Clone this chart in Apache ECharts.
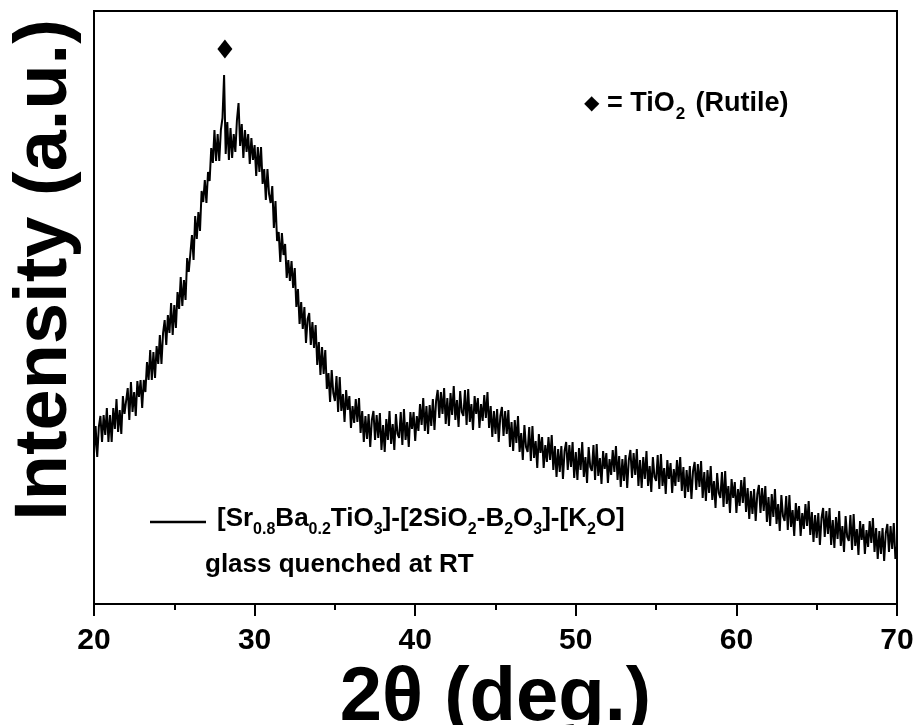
<!DOCTYPE html>
<html>
<head>
<meta charset="utf-8">
<script src="https://cdn.jsdelivr.net/npm/echarts@6/dist/echarts.min.js"></script>
<style>html,body{margin:0;padding:0;background:#fff}#c{width:917px;height:725px}</style>
</head>
<body>
<div id="c"></div>
<script>
// 2θ from 20.0 to 70.0 in 0.1° steps
const twoThetaStart = 20.0;
const twoThetaStep = 0.1;
const intensity = [
150,178,147,177,188,162,189,169,196,162,
189,162,196,175,205,172,194,170,208,190,
188,216,184,222,192,212,188,223,207,224,
196,224,212,242,224,254,224,252,226,258,
240,269,240,271,284,259,289,271,301,269,
299,276,312,295,327,298,324,304,346,332,
334,369,344,388,365,392,373,413,402,424,
401,432,423,456,441,474,443,470,443,474,
486,529,450,482,444,476,446,470,452,484,
501,458,480,446,474,452,470,440,466,444,
459,428,457,432,457,420,435,404,435,410,
401,418,376,403,363,372,342,371,349,360,
326,344,323,343,316,336,297,315,280,302,
275,297,261,285,291,259,282,256,279,239,
262,229,257,230,254,215,231,202,234,211,
203,228,192,227,193,210,182,214,194,208,
176,198,181,205,182,206,171,193,162,188,
165,190,157,184,193,164,189,166,191,154,
179,152,185,164,193,160,180,154,190,170,
166,192,159,195,164,182,157,192,175,192,
163,188,173,200,179,206,173,198,170,199,
178,205,174,203,214,186,212,190,216,180,
206,178,211,189,218,184,204,177,213,192,
188,214,179,215,182,200,174,208,190,206,
176,200,183,209,186,212,176,198,167,193,
170,195,162,188,197,168,193,170,194,157,
182,153,184,161,188,152,171,144,179,157,
152,177,143,178,146,163,136,170,151,167,
136,159,142,167,144,169,134,158,127,155,
132,158,125,153,162,134,159,137,162,126,
152,124,156,134,162,127,147,121,157,137,
133,159,124,160,128,146,120,153,135,151,
121,145,129,154,132,158,124,148,117,145,
123,149,116,144,154,126,151,129,155,118,
144,116,147,125,153,118,138,112,147,127,
123,149,115,150,118,136,110,144,125,141,
111,135,118,144,122,147,113,137,106,134,
112,138,105,133,142,114,140,117,143,106,
132,103,134,111,138,104,123,96,131,111,
106,132,97,133,100,118,91,125,106,122,
91,115,98,124,101,127,92,116,85,113,
90,115,83,110,119,91,116,93,118,82,
107,78,110,87,115,80,100,73,109,88,
83,108,74,109,77,94,68,101,83,98,
68,91,75,100,78,103,69,92,62,89,
66,91,59,86,96,67,93,70,96,59,
84,56,87,65,93,58,78,52,88,67,
63,89,54,90,58,75,49,83,64,80,
50,74,57,83,61,86,52,76,45,73,
50,76,43,71,80,52,78,55,81,45,
58
];
const rutilePeaks = [[28.15, 555]];
const xTicks = [20, 30, 40, 50, 60, 70];

const seriesData = intensity.map((v, i) => [+(twoThetaStart + i * twoThetaStep).toFixed(1), v]);

const chart = echarts.init(document.getElementById('c'), null, {renderer: 'canvas'});
const F = '"Liberation Sans", Arial, sans-serif';
chart.setOption({
  animation: false,
  backgroundColor: '#fff',
  grid: {left: 94, right: 20, top: 11, bottom: 121, outerBoundsMode: 'none', containLabel: false,
    show: true, borderColor: '#000', borderWidth: 2, backgroundColor: 'transparent'},
  xAxis: {
    type: 'value', min: 20, max: 70, interval: 10,
    name: '2θ (deg.)', nameLocation: 'middle', nameGap: 50,
    nameTextStyle: {fontFamily: F, fontWeight: 'bold', fontSize: 76, color: '#000'},
    axisLine: {lineStyle: {color: '#000', width: 2}},
    axisTick: {show: true, length: 12, lineStyle: {color: '#000', width: 2}},
    minorTick: {show: true, splitNumber: 2, length: 6, lineStyle: {color: '#000', width: 2}},
    splitLine: {show: false},
    axisLabel: {fontFamily: F, fontWeight: 'bold', fontSize: 30, color: '#000', margin: 22,
      formatter: v => xTicks.includes(v) ? String(v) : ''}
  },
  yAxis: {
    type: 'value', min: 0, max: 593,
    axisLine: {show: true, lineStyle: {color: '#000', width: 2}},
    axisTick: {show: false}, axisLabel: {show: false}, splitLine: {show: false}
  },
  series: [
    {type: 'line', data: seriesData, showSymbol: false, symbol: 'none',
     lineStyle: {color: '#000', width: 2}},
    {type: 'scatter', data: rutilePeaks, symbol: 'diamond', symbolSize: [15, 19],
     itemStyle: {color: '#000', opacity: 1}}
  ],
  graphic: [
    {type: 'text', x: 46, y: 270, rotation: Math.PI / 2,
     style: {text: 'Intensity (a.u.)', fontFamily: F, fontWeight: 'bold', fontSize: 74, fill: '#000',
       x: 0, y: 0, textAlign: 'center', textVerticalAlign: 'middle'}},
    {type: 'line', shape: {x1: 150, y1: 522, x2: 206, y2: 522}, style: {stroke: '#000', lineWidth: 2.5}},
    {type: 'text', x: 217, y: 506,
     style: {
       text: '{n|[Sr}{s|0.8}{n|Ba}{s|0.2}{n|TiO}{s|3}{n|]-[2SiO}{s|2}{n|-B}{s|2}{n|O}{s|3}{n|]-[K}{s|2}{n|O]}',
       rich: {
         n: {fontFamily: F, fontWeight: 'bold', fontSize: 26, fill: '#000', lineHeight: 30, verticalAlign: 'top'},
         s: {fontFamily: F, fontWeight: 'bold', fontSize: 16, fill: '#000', lineHeight: 16, padding: [16, 0, 0, 0], verticalAlign: 'top'}
       }
     }},
    {type: 'text', x: 205, y: 552,
     style: {text: 'glass quenched at RT', fontFamily: F, fontWeight: 'bold', fontSize: 26, fill: '#000'}},
    {type: 'text', x: 584, y: 90,
     style: {
       text: '{d|◆}{n| = TiO}{s|2}{n| (Rutile)}',
       rich: {
         d: {fontFamily: '"DejaVu Sans", sans-serif', fontSize: 20, fill: '#000', lineHeight: 30, verticalAlign: 'top', padding: [4, 0, 0, 0]},
         n: {fontFamily: F, fontWeight: 'bold', fontSize: 27, fill: '#000', lineHeight: 30, verticalAlign: 'top'},
         s: {fontFamily: F, fontWeight: 'bold', fontSize: 17, fill: '#000', lineHeight: 17, padding: [16, 3, 0, 1], verticalAlign: 'top'}
       }
     }}
  ]
});
</script>
</body>
</html>
